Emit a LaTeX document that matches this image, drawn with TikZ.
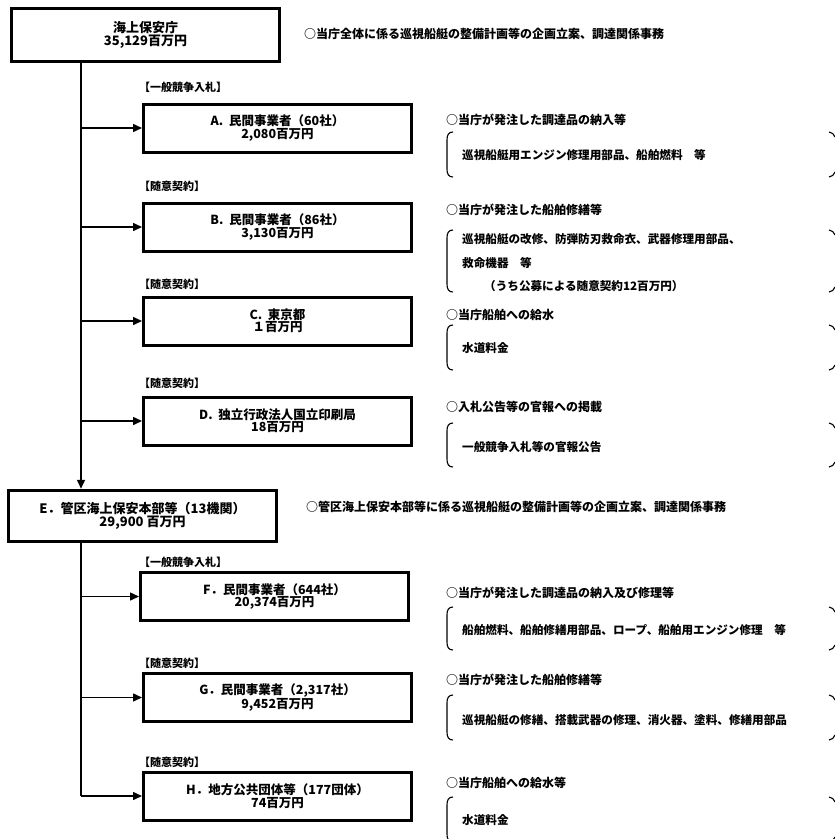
\documentclass[tikz,border=0pt]{standalone}
\usepackage{fontspec}
\setmainfont{Noto Sans CJK JP}
\usetikzlibrary{arrows.meta}
\newcommand{\bracketpair}[2]{%
  \draw[brk] (453,#1) .. controls (448.5,#1) and (447,#1+3) .. (447,#1+8) -- (447,#2-8) .. controls (447,#2-3) and (448.5,#2) .. (453,#2);
  \draw[brk] (829,#1) .. controls (832,#1+0.5) and (834,#1+2) .. (835,#1+5);
  \draw[brk] (829,#2) .. controls (832,#2-0.5) and (834,#2-2) .. (835,#2-5);
}
\tikzset{
  box/.style={draw, line width=3pt, minimum width=268pt, minimum height=48pt, inner sep=0pt,
    align=center, font=\fontsize{12.5}{10.5}\selectfont\bfseries},
  bigbox/.style={box, line width=3.5pt, minimum height=53pt, font=\fontsize{13}{11}\selectfont\bfseries},
  lbl/.style={anchor=west, inner sep=0pt, font=\fontsize{11}{12}\selectfont\bfseries},
  desc/.style={anchor=west, inner sep=0pt, font=\fontsize{12}{12}\selectfont\bfseries},
  item/.style={anchor=west, inner sep=0pt, font=\fontsize{11.6}{12}\selectfont\bfseries},
  link/.style={line width=1.5pt, -{Triangle[length=9pt,width=8pt]}},
  trunk/.style={line width=1.5pt},
  brk/.style={line width=1.1pt}
}
\begin{document}
\begin{tikzpicture}[x=1pt,y=-1pt]
\useasboundingbox (0,0) rectangle (835,839);
\fill[white] (0,0) rectangle (835,839);
\begin{scope}
\clip (0,0) rectangle (835,839);

\coordinate (tx) at (81,0);

% top
\node[bigbox] (top) at (145.5,35) {海上保安庁\\35,129百万円};
\node[desc] (topd) at (304,34) {○当庁全体に係る巡視船艇の整備計画等の企画立案、調達関係事務};

% A
\node[lbl] (la) at (139,87) {【一般競争入札】};
\node[box] (A) at (277.5,128) {A.\ \ 民間事業者（60社）\\2,080百万円};
\node[desc] (ad) at (446,120) {○当庁が発注した調達品の納入等};
\bracketpair{132}{177}
\node[item] (ai) at (462,155) {巡視船艇用エンジン修理用部品、船舶燃料　等};

% B
\node[lbl] (lb) at (139,186) {【随意契約】};
\node[box] (B) at (277.5,227) {B.\ \ 民間事業者（86社）\\3,130百万円};
\node[desc] (bd) at (446,210) {○当庁が発注した船舶修繕等};
\bracketpair{230}{292}
\node[item] (bi1) at (462,239) {巡視船艇の改修、防弾防刃救命衣、武器修理用部品、};
\node[item] (bi2) at (462,263) {救命機器　等};
\node[item] (bi3) at (484,286) {（うち公募による随意契約12百万円）};

% C
\node[lbl] (lc) at (139,284) {【随意契約】};
\node[box] (C) at (277.5,321) {C.\ \ 東京都\\１百万円};
\node[desc] (cd) at (446,315) {○当庁船舶への給水};
\bracketpair{325}{370}
\node[item] (ci) at (462,348) {水道料金};

% D
\node[lbl] (ld) at (139,383) {【随意契約】};
\node[box] (D) at (277.5,421) {D.\ \ 独立行政法人国立印刷局\\18百万円};
\node[desc] (dd) at (446,407) {○入札公告等の官報への掲載};
\bracketpair{423}{467}
\node[item] (di) at (462,447) {一般競争入札等の官報公告};

% E
\node[bigbox, minimum height=51pt] (E) at (142.5,516) {E．管区海上保安本部等（13機関）\\29,900 百万円};
\node[desc] (ed) at (306,507) {○管区海上保安本部等に係る巡視船艇の整備計画等の企画立案、調達関係事務};

% F
\node[lbl] (lf) at (139,562) {【一般競争入札】};
\node[box] (F) at (274.5,596.5) {F．民間事業者（644社）\\20,374百万円};
\node[desc] (fd) at (446,593) {○当庁が発注した調達品の納入及び修理等};
\bracketpair{607}{650}
\node[item] (fi) at (462,630) {船舶燃料、船舶修繕用部品、ロープ、船舶用エンジン修理　等};

% G
\node[lbl] (lg) at (139,663) {【随意契約】};
\node[box] (G) at (277.5,697.5) {G．民間事業者（2,317社）\\9,452百万円};
\node[desc] (gd) at (446,680) {○当庁が発注した船舶修繕等};
\bracketpair{695}{740}
\node[item] (gi) at (462,720) {巡視船艇の修繕、搭載武器の修理、消火器、塗料、修繕用部品};

% H
\node[lbl] (lh) at (139,762) {【随意契約】};
\node[box] (H) at (277.5,796) {H．地方公共団体等（177団体）\\74百万円};
\node[desc] (hd) at (446,783) {○当庁船舶への給水等};
\bracketpair{797}{842}
\node[item] (hi) at (462,820) {水道料金};

% connectors
\draw[trunk, -{Triangle[length=9pt,width=8pt]}] (top.south -| tx) -- (E.north -| tx);
\draw[link] (A.west -| tx) -- (A.west);
\draw[link] (B.west -| tx) -- (B.west);
\draw[link] (C.west -| tx) -- (C.west);
\draw[link] (D.west -| tx) -- (D.west);
\coordinate (hend) at (H.west -| tx);
\draw[trunk] (E.south -| tx) -- (hend);
\draw[link] (F.west -| tx) -- (F.west);
\draw[link] (G.west -| tx) -- (G.west);
\draw[link] (hend) -- (H.west);
\end{scope}
\end{tikzpicture}
\end{document}
